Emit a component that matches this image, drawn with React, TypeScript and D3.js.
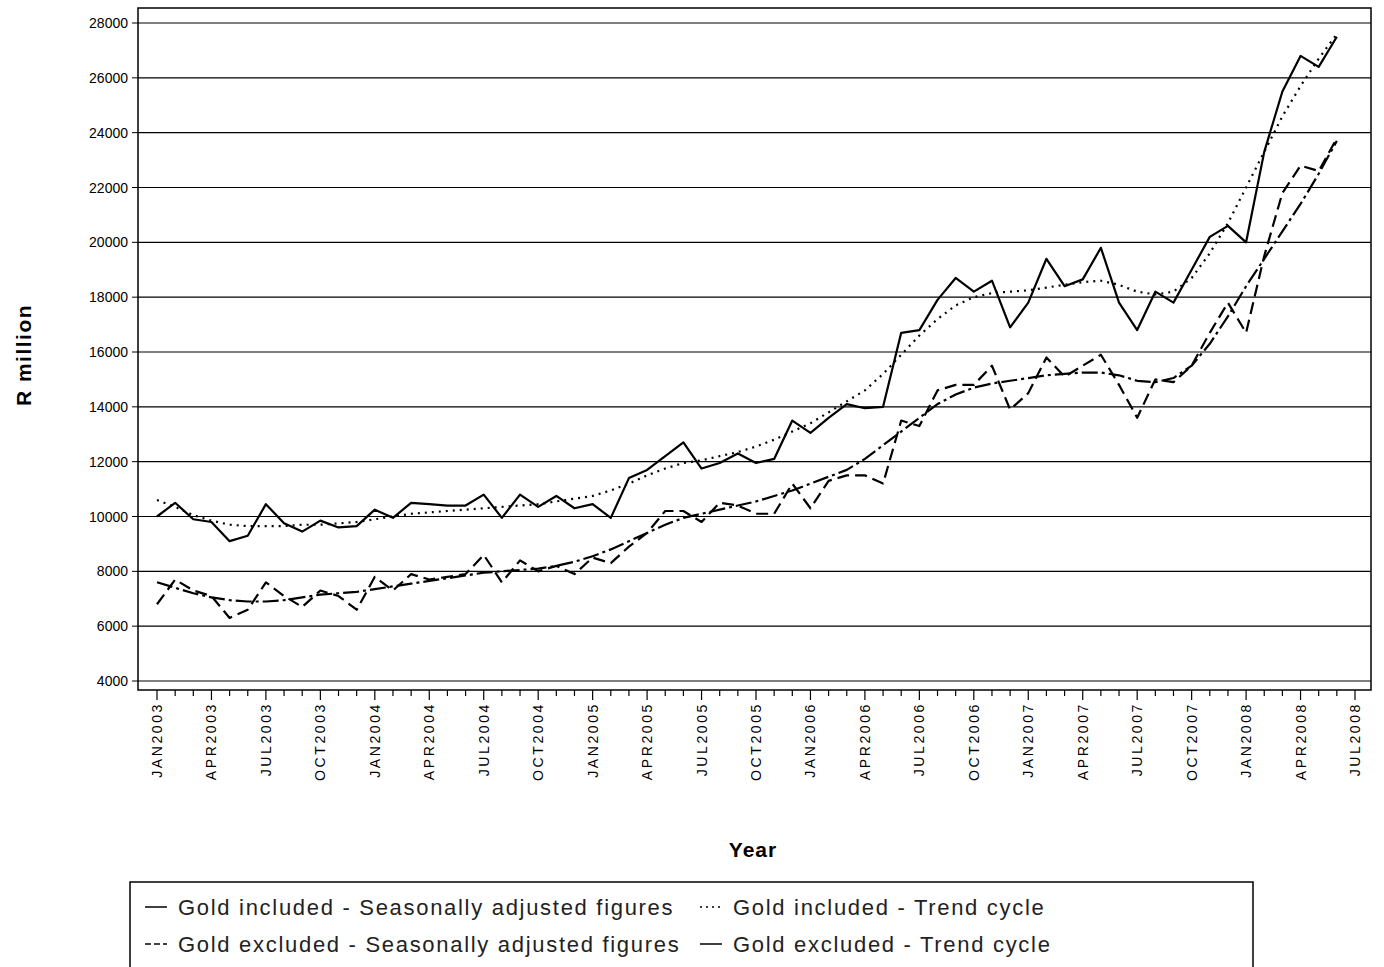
import * as d3 from 'd3';

const goldInclSA = [
  10000, 10500, 9900, 9800, 9100, 9300, 10450, 9750, 9450, 9850, 9600, 9650,
  10250, 9950, 10500, 10450, 10400, 10400, 10800, 9950, 10800, 10350, 10750, 10300,
  10450, 9950, 11400, 11700, 12200, 12700, 11750, 11950, 12300, 11950, 12100, 13500,
  13050, 13600, 14100, 13950, 14000, 16700, 16800, 17900, 18700, 18200, 18600, 16900,
  17800, 19400, 18400, 18650, 19800, 17800, 16800, 18200, 17800, 19000, 20200, 20600,
  20000, 23300, 25500, 26800, 26400, 27500,
];
const goldInclTrend = [
  10600, 10350, 10050, 9850, 9700, 9650, 9650, 9650, 9700, 9700, 9750, 9800,
  9900, 10000, 10100, 10150, 10200, 10250, 10300, 10350, 10400, 10450, 10550, 10650,
  10750, 10950, 11200, 11500, 11750, 11950, 12050, 12200, 12350, 12550, 12800, 13100,
  13400, 13800, 14200, 14600, 15200, 15900, 16600, 17200, 17700, 18000, 18150, 18200,
  18250, 18350, 18450, 18550, 18600, 18450, 18200, 18100, 18200, 18700, 19600, 20700,
  22000, 23300, 24600, 25700, 26700, 27600,
];
const goldExclSA = [
  6800, 7700, 7300, 7100, 6300, 6600, 7600, 7100, 6700, 7300, 7100, 6600,
  7800, 7300, 7900, 7700, 7800, 7900, 8600, 7600, 8400, 8000, 8200, 7900,
  8500, 8300, 8900, 9400, 10200, 10200, 9800, 10500, 10400, 10100, 10100, 11200,
  10300, 11300, 11500, 11500, 11200, 13500, 13300, 14600, 14800, 14800, 15500, 13900,
  14500, 15800, 15100, 15500, 15900, 14800, 13600, 15000, 14900, 15500, 16700, 17800,
  16700, 19500, 21800, 22800, 22600, 23800,
];
const goldExclTrend = [
  7600, 7400, 7200, 7050, 6950, 6900, 6900, 6950, 7050, 7150, 7200, 7250,
  7350, 7450, 7550, 7650, 7750, 7850, 7950, 8000, 8050, 8100, 8200, 8350,
  8550, 8800, 9100, 9400, 9700, 9950, 10100, 10250, 10400, 10550, 10750, 10950,
  11200, 11450, 11700, 12100, 12600, 13100, 13600, 14100, 14450, 14700, 14850, 14950,
  15050, 15150, 15200, 15250, 15250, 15150, 14950, 14900, 15050, 15500, 16300, 17300,
  18400, 19400, 20400, 21400, 22500, 23700,
];
const monthNames = ['JAN', 'APR', 'JUL', 'OCT'];
const yTicks = d3.range(4000, 28001, 2000);

const series = [
  { name: 'Gold included - Seasonally adjusted figures', data: goldInclSA, dash: '', legendDash: '' },
  { name: 'Gold included - Trend cycle', data: goldInclTrend, dash: '2,5', legendDash: '2,4' },
  { name: 'Gold excluded - Seasonally adjusted figures', data: goldExclSA, dash: '12,6', legendDash: '6,3' },
  { name: 'Gold excluded - Trend cycle', data: goldExclTrend, dash: '16,4,3,4', legendDash: '' },
];

const FONT = 'Arial, "Liberation Sans", sans-serif';

export default function App() {
  const left = 138, right = 1371, top = 8, bottom = 690;
  const x = d3.scaleLinear().domain([0, 66]).range([157, 1355]);
  const y = d3.scaleLinear().domain([4000, 28000]).range([681, 23]);
  const line = (data: number[]) =>
    d3.line<number>().x((_, i) => x(i)).y(d => y(d))(data) || '';
  const months = d3.range(0, 67);

  return (
    <svg width={1384} height={967} style={{ position: 'absolute', left: 0, top: 0, background: '#fff' }} fontFamily={FONT}>
      <rect x={left} y={top} width={right - left} height={bottom - top} fill="none" stroke="#000" strokeWidth={1.5} />
      {yTicks.map(t => (
        <g key={t}>
          <line x1={left} x2={right} y1={y(t)} y2={y(t)} stroke="#000" strokeWidth={1.2} />
          <line x1={left - 6} x2={left} y1={y(t)} y2={y(t)} stroke="#000" />
          <text x={left - 10} y={y(t) + 5} textAnchor="end" fontSize={14}>{t}</text>
        </g>
      ))}
      {months.map(m => (
        <g key={m}>
          <line x1={x(m)} x2={x(m)} y1={bottom} y2={bottom + (m % 3 === 0 ? 10 : 6)} stroke="#000" strokeWidth={1.2} />
          {m % 3 === 0 && (
            <text transform={`translate(${x(m) + 5},${bottom + 12}) rotate(-90)`} textAnchor="end" fontSize={14} letterSpacing={2.6}>
              {monthNames[(m % 12) / 3]}{2003 + Math.floor(m / 12)}
            </text>
          )}
        </g>
      ))}
      {series.map(s => (
        <path key={s.name} d={line(s.data)} fill="none" stroke="#000" strokeWidth={2.2}
          strokeDasharray={s.dash || undefined} strokeLinejoin="round" />
      ))}
      <text transform="translate(31,355) rotate(-90)" textAnchor="middle" fontSize={21} fontWeight="bold" letterSpacing={1.5}>R million</text>
      <text x={753} y={857} textAnchor="middle" fontSize={21} fontWeight="bold" letterSpacing={1}>Year</text>
      <rect x={130} y={882} width={1123} height={100} fill="none" stroke="#000" strokeWidth={1.5} />
      {series.map((s, i) => {
        const lx = i % 2 === 0 ? 145 : 700;
        const ly = i < 2 ? 908 : 945;
        return (
          <g key={s.name}>
            <line x1={lx} x2={lx + 22} y1={ly - 1} y2={ly - 1} stroke="#000" strokeWidth={1.5}
              strokeDasharray={s.legendDash || undefined} />
            <text x={lx + 33} y={ly + 7} fontSize={22} fill="#222" letterSpacing={1.7}>{s.name}</text>
          </g>
        );
      })}
    </svg>
  );
}
